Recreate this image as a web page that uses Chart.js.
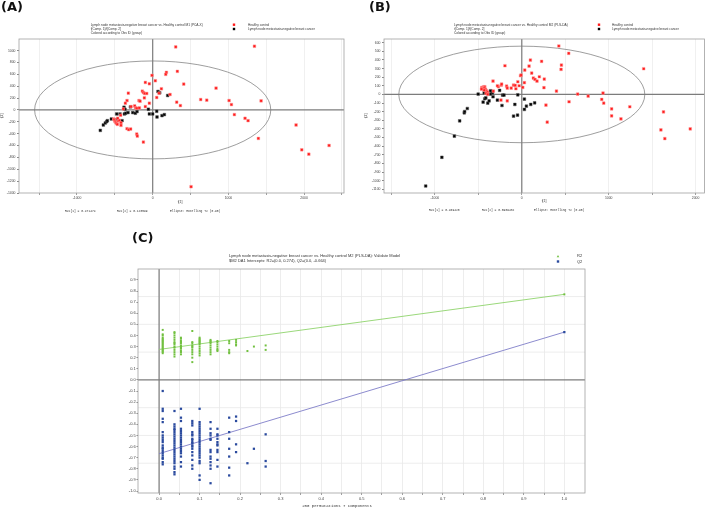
<!DOCTYPE html>
<html>
<head>
<meta charset="utf-8">
<script src="https://cdn.jsdelivr.net/npm/chart.js@4.4.0/dist/chart.umd.min.js"></script>
<style>
  body { margin: 0; background: #fff; width: 709px; height: 508px; position: relative; overflow: hidden; }
  canvas { position: absolute; }
</style>
</head>
<body>
<canvas id="chartA" width="354" height="230" style="left:0;top:0"></canvas>
<canvas id="chartB" width="355" height="230" style="left:354px;top:0"></canvas>
<canvas id="chartC" width="499" height="280" style="left:110px;top:228px"></canvas>
<script>
// ---------- (A) M1 PCA-X score plot ----------
const healthyA = [
  [304, 1062], [1344, 1073], [326, 650], [181, 633], [172, 599], [-9, 582], [35, 492], [-97, 463],
  [-44, 441], [410, 435], [837, 367], [115, 356], [-322, 282], [-137, 316], [-123, 294], [-106, 277],
  [-79, 277], [229, 260], [84, 282], [53, 209], [634, 175], [714, 164], [1009, 158], [1432, 153],
  [1040, 90], [317, 130], [366, 73], [-110, 203], [-181, 158], [-167, 147], [-339, 158], [-361, 113],
  [-388, 17], [-286, 56], [-238, 68], [-225, 34], [-207, 28], [-176, 34], [-97, 56], [-44, 113],
  [1079, -79], [1220, -141], [1260, -181], [1396, -480], [1894, -254], [1969, -672], [2062, -746],
  [2330, -599], [507, -1294], [-123, -542], [-211, -407], [-203, -441], [-339, -316], [-317, -333],
  [-291, -322], [-515, -153], [-507, -169], [-498, -192], [-489, -209], [-480, -226], [-467, -243],
  [-454, -186], [-441, -175], [-419, -215], [-419, -260], [-463, -141], [-423, -90]
];
const cancerA = [
  [-692, -345], [-652, -254], [-626, -220], [-608, -198], [-599, -181], [-546, -153], [-476, -68],
  [-432, -68], [-476, -164], [-405, -181], [-374, -68], [-357, -56], [-326, -45], [-379, 45],
  [-366, 11], [-295, 51], [-264, -45], [-229, -56], [-207, -28], [-57, 11], [-44, -68], [0, -68],
  [53, -23], [57, -119], [123, -96], [154, -79], [70, 311], [93, 288], [198, 243]
];
const xTicksA = [-1500, -1000, -500, 0, 500, 1000, 1500, 2000, 2500];
const xLabelsA = [-1000, 0, 1000, 2000];
const yTicksA = [-1400, -1200, -1000, -800, -600, -400, -200, 0, 200, 400, 600, 800, 1000];
const ellipseA = [1560, 825]; // Hotelling T2 (0.95) 半轴

// ---------- (B) M2 PLS-DA score plot ----------
const healthyB = [
  [426, 562], [540, 477], [99, 399], [228, 384], [456, 341], [452, 291], [-194, 333], [84, 329],
  [34, 283], [114, 248], [133, 190], [152, 174], [175, 155], [202, 205], [259, 178], [-15, 217],
  [-46, 147], [30, 136], [1403, 298], [-331, 155], [-236, 109], [-270, 89], [-175, 97], [-167, 74],
  [-122, 74], [-95, 109], [-76, 105], [-68, 66], [11, 81], [255, 78], [399, 39], [643, 4],
  [764, -19], [935, 16], [920, -58], [943, -101], [1034, -167], [1034, -248], [1141, -283],
  [1243, -143], [544, -85], [278, -124], [293, -322], [1631, -202], [1601, -411], [1646, -512],
  [1939, -399], [-240, -66], [-167, -74], [-460, 81], [-449, 81], [-437, 89], [-426, 89],
  [-452, 70], [-441, 66], [-430, 74], [-418, 58], [-407, 43], [-395, 27], [-411, 12], [-392, 0],
  [-433, 50], [-464, 62], [-281, 101], [-232, 120], [-30, 101], [-8, 225], [-327, 39]
];
const cancerB = [
  [-1106, -1062], [-920, -729], [-776, -484], [-715, -306], [-662, -213], [-658, -198], [-627, -163],
  [-502, 4], [-445, -89], [-426, -50], [-414, -39], [-392, -101], [-376, -74], [-433, 19], [-346, 35],
  [-338, 19], [-361, 43], [-331, -27], [-281, -66], [-255, 47], [-221, -8], [-205, -8], [-228, -128],
  [-80, -116], [-95, -252], [-49, -240], [-46, -4], [30, -54], [30, -174], [53, -136], [103, -116],
  [148, -97], [-361, 4]
];
const xTicksB = [-1500, -1000, -500, 0, 500, 1000, 1500, 2000];
const xLabelsB = [-1000, 0, 1000, 2000];
const yTicksB = [-1100, -1000, -900, -800, -700, -600, -500, -400, -300, -200, -100, 0, 100, 200, 300, 400, 500, 600];
const ellipseB = [1416, 560];

// ---------- (C) 200 permutations validation ----------
const permCorr = [0.009, 0.038, 0.054, 0.082, 0.1, 0.127, 0.144, 0.173, 0.19, 0.218, 0.234, 0.263];
const r2Perm = [
  [0.45, 0.41, 0.40, 0.38, 0.37, 0.36, 0.35, 0.34, 0.33, 0.32, 0.31, 0.30, 0.29, 0.28, 0.27, 0.26, 0.25, 0.24],
  [0.43, 0.42, 0.40, 0.38, 0.36, 0.34, 0.33, 0.32, 0.30, 0.29, 0.27, 0.25, 0.23, 0.21],
  [0.38, 0.37, 0.35, 0.34, 0.33, 0.31, 0.30, 0.29, 0.28, 0.26, 0.25, 0.23],
  [0.44, 0.34, 0.33, 0.31, 0.30, 0.29, 0.27, 0.25, 0.23, 0.20, 0.16],
  [0.38, 0.37, 0.36, 0.35, 0.34, 0.33, 0.32, 0.30, 0.28, 0.26, 0.24, 0.22],
  [0.36, 0.35, 0.34, 0.33, 0.31, 0.29, 0.27, 0.25, 0.23],
  [0.35, 0.34, 0.32, 0.30, 0.28, 0.27, 0.26],
  [0.35, 0.33, 0.27, 0.25, 0.24],
  [0.36, 0.34, 0.32, 0.31],
  [0.26],
  [0.30],
  [0.31, 0.27]
];
const q2Perm = [
  [-0.10, -0.26, -0.28, -0.35, -0.38, -0.47, -0.50, -0.52, -0.54, -0.56, -0.59, -0.61, -0.62, -0.64, -0.66, -0.68, -0.70, -0.71, -0.74, -0.76],
  [-0.28, -0.40, -0.42, -0.44, -0.45, -0.47, -0.49, -0.51, -0.53, -0.55, -0.57, -0.59, -0.61, -0.63, -0.65, -0.67, -0.69, -0.71, -0.73, -0.75, -0.78, -0.80, -0.83, -0.85],
  [-0.26, -0.34, -0.37, -0.44, -0.46, -0.48, -0.50, -0.52, -0.54, -0.56, -0.58, -0.60, -0.62, -0.64, -0.66, -0.69, -0.74, -0.78],
  [-0.37, -0.39, -0.41, -0.47, -0.49, -0.50, -0.53, -0.54, -0.56, -0.57, -0.59, -0.60, -0.62, -0.65, -0.68, -0.72, -0.77, -0.80],
  [-0.26, -0.38, -0.40, -0.42, -0.44, -0.46, -0.48, -0.50, -0.52, -0.54, -0.56, -0.58, -0.60, -0.62, -0.64, -0.66, -0.68, -0.70, -0.73, -0.75, -0.86, -0.90],
  [-0.38, -0.44, -0.48, -0.50, -0.53, -0.54, -0.63, -0.65, -0.69, -0.71, -0.74, -0.77, -0.80, -0.93],
  [-0.44, -0.49, -0.50, -0.53, -0.56, -0.58, -0.59, -0.63, -0.65, -0.72, -0.78],
  [-0.34, -0.47, -0.53, -0.62, -0.69, -0.79, -0.86],
  [-0.33, -0.37, -0.58, -0.65],
  [-0.75],
  [-0.62],
  [-0.49, -0.73, -0.78]
];
const modelR2 = 0.77, modelQ2 = 0.43;            // 原模型 (x = 1.0)
const r2Intercept = 0.274, q2Intercept = -0.664;  // 截距
const xTicksC = [0, 0.05, 0.1, 0.15, 0.2, 0.25, 0.3, 0.35, 0.4, 0.45, 0.5, 0.55, 0.6, 0.65, 0.7, 0.75, 0.8, 0.85, 0.9, 0.95, 1.0];
const xLabelsC = ['0.0', '0.1', '0.2', '0.3', '0.4', '0.5', '0.6', '0.7', '0.8', '0.9', '1.0'];
const yTicksC = [-1.0, -0.9, -0.8, -0.7, -0.6, -0.5, -0.4, -0.3, -0.2, -0.1, 0, 0.1, 0.2, 0.3, 0.4, 0.5, 0.6, 0.7, 0.8, 0.9];
const yGridC = [-0.75, -0.5, -0.25, 0.25, 0.5, 0.75];

const FONT = "'Liberation Sans', Arial, sans-serif";
const MONO = "'Liberation Mono', 'DejaVu Sans Mono', monospace";
const RED = '#ff1a1a', GREEN = '#72c040', BLUE = '#2a4a9e';

function toXY(points) {
    return points.map(p => ({ x: p[0], y: p[1] }));
}

// 用给定的数组替换自动生成的刻度
function fixTicks(values) {
    return function (scale) {
        scale.ticks = values.map(v => ({ value: v }));
    };
}

function strokeLine(ctx, x1, y1, x2, y2, color, width) {
    ctx.beginPath();
    ctx.moveTo(x1, y1);
    ctx.lineTo(x2, y2);
    ctx.strokeStyle = color;
    ctx.lineWidth = width;
    ctx.stroke();
}

// 画框、零线、椭圆和文字
function decor(opt) {
    return {
        id: 'decor',
        beforeDatasetsDraw(chart) {
            const ctx = chart.ctx, a = chart.chartArea;
            const x = chart.scales.x, y = chart.scales.y;
            ctx.save();
            ctx.beginPath();
            ctx.rect(a.left, a.top, a.right - a.left, a.bottom - a.top);
            ctx.clip();
            (opt.yGrid || []).forEach(v => {
                const py = y.getPixelForValue(v);
                strokeLine(ctx, a.left, py, a.right, py, '#e8e8e8', 0.8);
            });
            if (opt.ellipse) {
                const cx = x.getPixelForValue(0), cy = y.getPixelForValue(0);
                const rx = x.getPixelForValue(opt.ellipse[0]) - cx;
                const ry = cy - y.getPixelForValue(opt.ellipse[1]);
                ctx.beginPath();
                ctx.ellipse(cx, cy, rx, ry, 0, 0, Math.PI * 2);
                ctx.strokeStyle = '#858585';
                ctx.lineWidth = 0.8;
                ctx.stroke();
            }
            const x0 = x.getPixelForValue(0), y0 = y.getPixelForValue(0);
            strokeLine(ctx, x0, a.top, x0, a.bottom, '#7c7c7c', 1.2);
            strokeLine(ctx, a.left, y0, a.right, y0, '#7c7c7c', 1.2);
            ctx.restore();

            ctx.save();
            ctx.strokeStyle = '#a0a0a0';
            ctx.lineWidth = 0.8;
            ctx.strokeRect(a.left, a.top, a.right - a.left, a.bottom - a.top);
            ctx.restore();
        },
        afterDraw(chart) {
            const ctx = chart.ctx;
            ctx.save();
            (opt.marks || []).forEach(m => {
                ctx.fillStyle = m.color;
                if (m.shape === 'tri') {
                    ctx.beginPath();
                    ctx.moveTo(m.x, m.y - 1.3);
                    ctx.lineTo(m.x + 1.3, m.y + 1);
                    ctx.lineTo(m.x - 1.3, m.y + 1);
                    ctx.closePath();
                    ctx.fill();
                } else {
                    ctx.fillRect(m.x - 1.2, m.y - 1.2, 2.4, 2.4);
                }
            });
            (opt.texts || []).forEach(t => {
                ctx.save();
                ctx.font = (t.bold ? 'bold ' : '') + t.size + 'px ' + (t.mono ? MONO : (t.family || FONT));
                ctx.fillStyle = t.color || '#333';
                ctx.textAlign = t.align || 'left';
                ctx.textBaseline = 'middle';
                ctx.translate(t.x, t.y);
                if (t.rot) ctx.rotate(t.rot);
                ctx.fillText(t.t, 0, 0);
                ctx.restore();
            });
            ctx.restore();
        }
    };
}

// 得分图 (A)(B)
function scoreChart(id, cfg) {
    const tickFont = { size: 3.4, family: FONT };
    return new Chart(document.getElementById(id), {
        type: 'scatter',
        data: {
            datasets: [{
                data: toXY(cfg.healthy),
                backgroundColor: RED,
                borderColor: '#ff9c9c',
                borderWidth: 0.5,
                pointStyle: 'rect',
                radius: 1.9
            }, {
                data: toXY(cfg.cancer),
                backgroundColor: '#000',
                borderColor: '#555',
                borderWidth: 0.5,
                pointStyle: 'rect',
                radius: 1.9
            }]
        },
        options: {
            responsive: false,
            animation: false,
            devicePixelRatio: 1,
            layout: { padding: cfg.padding },
            plugins: { legend: { display: false }, tooltip: { enabled: false } },
            scales: {
                x: {
                    type: 'linear', min: cfg.xRange[0], max: cfg.xRange[1],
                    afterBuildTicks: fixTicks(cfg.xTicks),
                    afterFit: s => { s.height = 37; },
                    border: { display: false },
                    grid: { color: '#ececec', lineWidth: 0.8, tickColor: '#888', tickLength: 2 },
                    ticks: {
                        autoSkip: false, maxRotation: 0, minRotation: 0, padding: 1,
                        font: tickFont, color: '#444',
                        callback: v => cfg.xLabels.includes(v) ? String(v) : ''
                    }
                },
                y: {
                    type: 'linear', min: cfg.yRange[0], max: cfg.yRange[1],
                    afterBuildTicks: fixTicks(cfg.yTicks),
                    afterFit: s => { s.width = cfg.yWidth; },
                    border: { display: false },
                    grid: { drawOnChartArea: false, tickColor: '#888', tickLength: 2 },
                    ticks: {
                        autoSkip: false, padding: 1.5, font: tickFont, color: '#444',
                        callback: v => String(v)
                    }
                }
            }
        },
        plugins: [decor(cfg.decor)]
    });
}

function headerTexts(x0, lines, legendX, legend) {
    const out = lines.map((t, i) => ({ t: t, x: x0, y: 24.7 + i * 4, size: 3.2 }));
    legend.forEach((t, i) => out.push({ t: t, x: legendX, y: 24.7 + i * 4.3, size: 3.2 }));
    return out;
}

scoreChart('chartA', {
    healthy: healthyA, cancer: cancerA,
    xRange: [-1766, 2527], yRange: [-1400, 1195],
    xTicks: xTicksA, xLabels: xLabelsA, yTicks: yTicksA,
    padding: { left: 0, top: 39, right: 10, bottom: 0 }, yWidth: 19,
    decor: {
        ellipse: ellipseA,
        marks: [{ x: 234, y: 24.7, color: RED }, { x: 234, y: 29, color: '#000' }],
        texts: headerTexts(90.7, [
            'Lymph node metastasis-negative breast cancer vs. Healthy control M1 (PCA-X)',
            't[Comp. 1]/t[Comp. 2]',
            'Colored according to Obs ID (group)'
        ], 248, ['Healthy control', 'Lymph node metastasis-negative breast cancer']).concat([
            { t: '(A)', x: 1, y: 7.5, size: 13, bold: true, family: "'DejaVu Sans', sans-serif", color: '#111' },
            { t: 't[1]', x: 180, y: 201.7, size: 3.4, align: 'center' },
            { t: 't[2]', x: 2.5, y: 116, size: 3.4, align: 'center', rot: -Math.PI / 2 },
            { t: 'R2X[1] = 0.471474', x: 65, y: 211, size: 3, mono: true },
            { t: 'R2X[2] = 0.120599', x: 117, y: 211, size: 3, mono: true },
            { t: 'Ellipse: Hotelling T2 (0.95)', x: 170, y: 211, size: 3, mono: true }
        ])
    }
});

scoreChart('chartB', {
    healthy: healthyB, cancer: cancerB,
    xRange: [-1586, 2103], yRange: [-1143, 643],
    xTicks: xTicksB, xLabels: xLabelsB, yTicks: yTicksB,
    padding: { left: 0, top: 39, right: 1.7, bottom: 0 }, yWidth: 30,
    decor: {
        ellipse: ellipseB,
        marks: [{ x: 245, y: 24.7, color: RED }, { x: 245, y: 29, color: '#000' }],
        texts: headerTexts(100, [
            'Lymph node metastasis-negative breast cancer vs. Healthy control M2 (PLS-DA)',
            't[Comp. 1]/t[Comp. 2]',
            'Colored according to Obs ID (group)'
        ], 258, ['Healthy control', 'Lymph node metastasis-negative breast cancer']).concat([
            { t: '(B)', x: 15, y: 7.5, size: 13, bold: true, family: "'DejaVu Sans', sans-serif", color: '#111' },
            { t: 't[1]', x: 190, y: 201, size: 3.4, align: 'center' },
            { t: 't[2]', x: 12.3, y: 116, size: 3.4, align: 'center', rot: -Math.PI / 2 },
            { t: 'R2X[1] = 0.469420', x: 75, y: 210, size: 3, mono: true },
            { t: 'R2X[2] = 0.0909432', x: 128, y: 210, size: 3, mono: true },
            { t: 'Ellipse: Hotelling T2 (0.95)', x: 180, y: 210, size: 3, mono: true }
        ])
    }
});

// 置换检验图 (C)
const r2Points = [], q2Points = [];
permCorr.forEach((c, i) => {
    r2Perm[i].forEach(v => r2Points.push({ x: c, y: v }));
    q2Perm[i].forEach(v => q2Points.push({ x: c, y: v }));
});
r2Points.push({ x: 1, y: modelR2 });
q2Points.push({ x: 1, y: modelQ2 });

new Chart(document.getElementById('chartC'), {
    type: 'scatter',
    data: {
        datasets: [{
            data: r2Points, backgroundColor: GREEN, borderWidth: 0,
            pointStyle: 'rect', radius: 1.4, order: 0
        }, {
            data: q2Points, backgroundColor: BLUE, borderWidth: 0,
            pointStyle: 'rect', radius: 1.6, order: 0
        }, {
            data: [{ x: 0, y: r2Intercept }, { x: 1, y: modelR2 }],
            showLine: true, borderColor: '#8ed46c', borderWidth: 0.9, radius: 0, order: 1
        }, {
            data: [{ x: 0, y: q2Intercept }, { x: 1, y: modelQ2 }],
            showLine: true, borderColor: '#7f7ec8', borderWidth: 0.9, radius: 0, order: 1
        }]
    },
    options: {
        responsive: false,
        animation: false,
        devicePixelRatio: 1,
        layout: { padding: { left: 0, top: 41, right: 24, bottom: 0 } },
        plugins: { legend: { display: false }, tooltip: { enabled: false } },
        scales: {
            x: {
                type: 'linear', min: -0.052, max: 1.051,
                afterBuildTicks: fixTicks(xTicksC),
                afterFit: s => { s.height = 15; },
                border: { display: false },
                grid: { color: '#e8e8e8', lineWidth: 0.8, tickColor: '#888', tickLength: 2 },
                ticks: {
                    autoSkip: false, maxRotation: 0, minRotation: 0, padding: 1,
                    font: { size: 4, family: FONT }, color: '#444',
                    callback: v => {
                        const s = v.toFixed(1);
                        return Math.abs(v * 10 - Math.round(v * 10)) < 1e-6 && xLabelsC.includes(s) ? s : '';
                    }
                }
            },
            y: {
                type: 'linear', min: -1.018, max: 0.998,
                afterBuildTicks: fixTicks(yTicksC),
                afterFit: s => { s.width = 28; },
                border: { display: false },
                grid: { drawOnChartArea: false, tickColor: '#888', tickLength: 1.5 },
                ticks: {
                    autoSkip: false, padding: 0.8,
                    font: { size: 4, family: FONT }, color: '#444',
                    callback: v => v.toFixed(1)
                }
            }
        }
    },
    plugins: [decor({
        yGrid: yGridC,
        marks: [{ x: 448, y: 28.3, color: GREEN, shape: 'tri' }, { x: 448, y: 33.5, color: BLUE }],
        texts: [
            { t: '(C)', x: 22, y: 10.5, size: 13, bold: true, family: "'DejaVu Sans', sans-serif", color: '#111' },
            { t: 'Lymph node metastasis-negative breast cancer vs. Healthy control M2 (PLS-DA): Validate Model', x: 119, y: 28.3, size: 4 },
            { t: '$M2 DA1 Intercepts: R2=(0.0, 0.274), Q2=(0.0, -0.664)', x: 119, y: 33.3, size: 4 },
            { t: 'R2', x: 467, y: 28.3, size: 4 },
            { t: 'Q2', x: 467, y: 33.5, size: 4 },
            { t: '200 permutations 7 components', x: 227, y: 278, size: 4, mono: true, align: 'center' }
        ]
    })]
});
</script>
</body>
</html>
